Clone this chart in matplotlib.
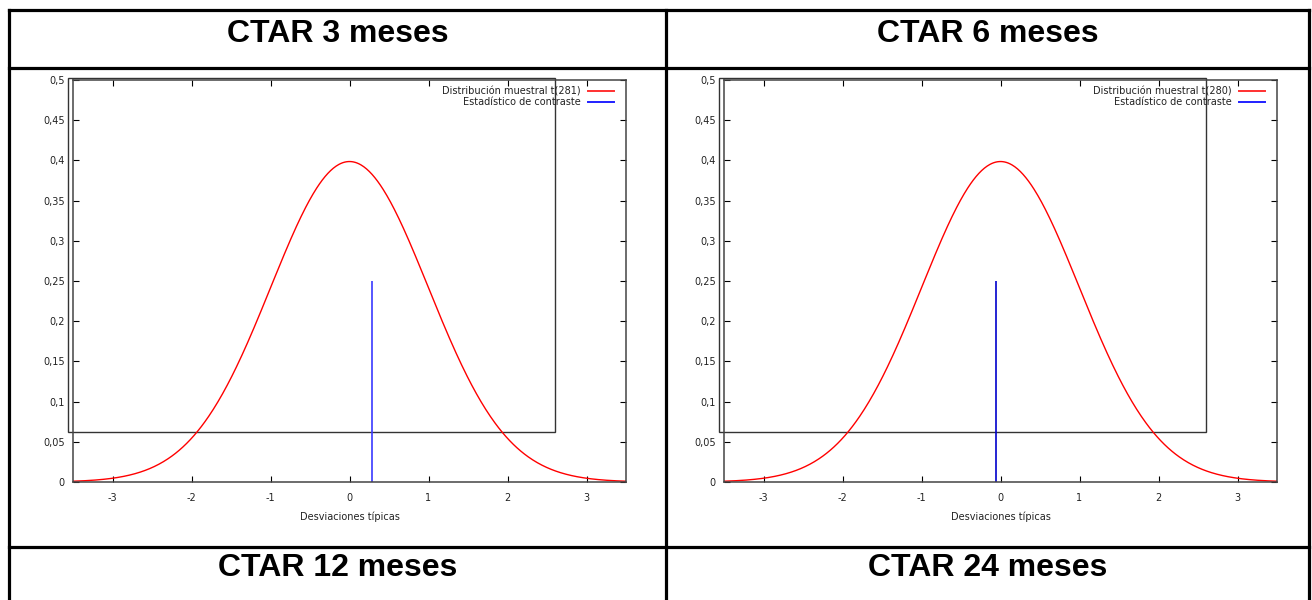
import math
import numpy as np
import matplotlib
matplotlib.use("Agg")
import matplotlib.pyplot as plt
from matplotlib.lines import Line2D
from matplotlib.patches import Rectangle

# Panel headers and contents
panel_titles = ["CTAR 3 meses", "CTAR 6 meses"]
next_titles = ["CTAR 12 meses", "CTAR 24 meses"]
degrees_freedom = [281, 280]
test_statistics = [0.28, -0.055]
stat_heights = [0.25, 0.25]
stat_colors = ["#3a3aff", "#0000cc"]
curve_label = "Distribución muestral t({})"
stat_label = "Estadístico de contraste"
x_label = "Desviaciones típicas"
x_ticks = [-3, -2, -1, 0, 1, 2, 3]
y_ticks = [0, 0.05, 0.1, 0.15, 0.2, 0.25, 0.3, 0.35, 0.4, 0.45, 0.5]
y_tick_labels = ["0", "0,05", "0,1", "0,15", "0,2", "0,25", "0,3", "0,35", "0,4", "0,45", "0,5"]


def t_pdf(x, df):
    c = math.exp(math.lgamma((df + 1) / 2) - math.lgamma(df / 2)) / math.sqrt(df * math.pi)
    return c * (1 + x ** 2 / df) ** (-(df + 1) / 2)


W, H = 1312, 600
fig = plt.figure(figsize=(W / 100, H / 100), dpi=100)
fig.patch.set_facecolor("white")


def fx(px):
    return px / W


def fy(py):
    return 1 - py / H


# table grid
grid_kw = dict(color="black", lw=2.3, transform=fig.transFigure)
for x in (9, 666, 1309):
    fig.add_artist(Line2D([fx(x), fx(x)], [fy(10), fy(600)], **grid_kw))
for y in (10, 68, 547):
    fig.add_artist(Line2D([fx(9), fx(1309)], [fy(y), fy(y)], **grid_kw))

col_centers = [337.5, 987.5]
for cx, t1, t2 in zip(col_centers, panel_titles, next_titles):
    fig.text(fx(cx), fy(34), t1, ha="center", va="center",
             family="Liberation Sans", weight="bold", fontsize=23)
    fig.text(fx(cx), fy(568), t2, ha="center", va="center",
             family="Liberation Sans", weight="bold", fontsize=23)

axes_left = [73, 724]
ax_w, ax_top, ax_bot = 553, 80, 482
xs = np.linspace(-3.5, 3.5, 600)

for i in range(2):
    ax = fig.add_axes([fx(axes_left[i]), fy(ax_bot), ax_w / W, (ax_bot - ax_top) / H])
    df = degrees_freedom[i]
    ax.plot(xs, [t_pdf(v, df) for v in xs], color="red", lw=1.0)
    ax.vlines(test_statistics[i], 0, stat_heights[i], color=stat_colors[i], lw=1.2)
    ax.set_xlim(-3.5, 3.5)
    ax.set_ylim(0, 0.5)
    ax.set_xticks(x_ticks)
    ax.set_xticklabels([str(v) for v in x_ticks])
    ax.set_yticks(y_ticks)
    ax.set_yticklabels(y_tick_labels)
    ax.tick_params(direction="in", length=4, width=0.8, labelsize=7,
                   labelcolor="#222222", top=True, right=True, pad=6)
    ax.tick_params(axis="x", pad=8)
    for s in ax.spines.values():
        s.set_color("#444444")
        s.set_linewidth(1.1)
    ax.set_xlabel(x_label, fontsize=7, color="#222222", labelpad=6)

    # stray key box outline
    ax.add_patch(Rectangle((-0.009, 0.1244), 0.88, 0.881, transform=ax.transAxes,
                           fill=False, ec="#333333", lw=1.0, clip_on=False))

    # key
    for j, (lbl, col) in enumerate([(curve_label.format(df), "#ff3030"),
                                    (stat_label, "#2020ff")]):
        yy = 0.9726 - j * 0.0274
        ax.text(0.918, yy, lbl, transform=ax.transAxes, ha="right", va="center",
                fontsize=7, color="#222222")
        ax.add_line(Line2D([0.931, 0.978], [yy, yy], transform=ax.transAxes,
                           color=col, lw=1.4))

fig.savefig("out.png", dpi=100)
